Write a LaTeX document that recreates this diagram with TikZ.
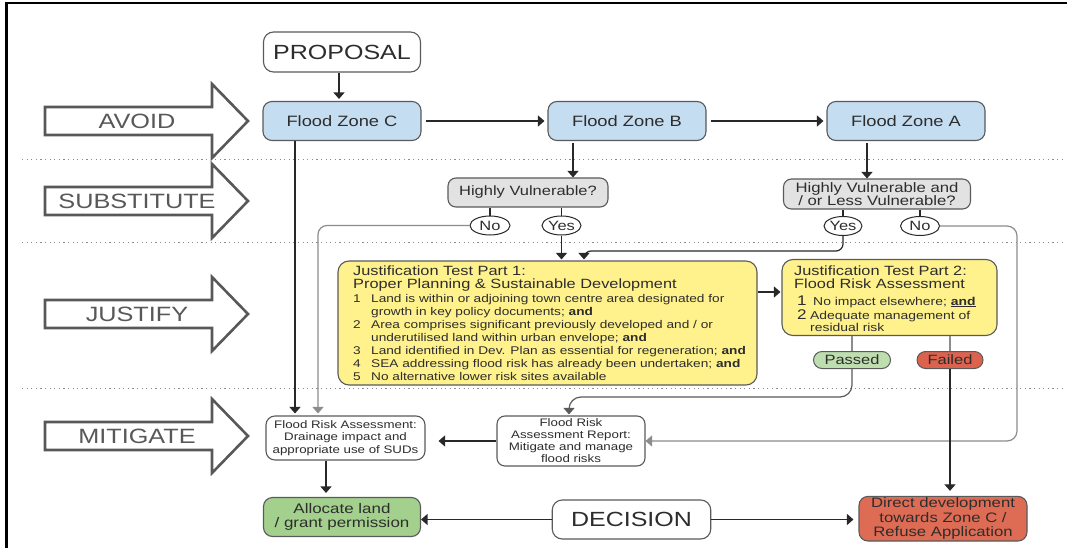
\documentclass[tikz,border=0pt]{standalone}
\usepackage{fontspec}
\setmainfont[FakeStretch=1.22]{Liberation Sans}
\usetikzlibrary{arrows.meta,calc,shapes.geometric}
\newcommand\myfs[2]{\fontsize{#1}{#2}\selectfont}
\definecolor{bluef}{RGB}{197,221,241}
\definecolor{yelf}{RGB}{255,242,140}
\definecolor{grayf}{RGB}{226,226,226}
\definecolor{passf}{RGB}{190,222,175}
\definecolor{failf}{RGB}{220,98,78}
\definecolor{allocf}{RGB}{164,208,142}
\definecolor{directf}{RGB}{222,108,84}
\definecolor{bordc}{RGB}{90,90,90}
\definecolor{linec}{RGB}{40,40,40}
\definecolor{lineg}{RGB}{140,140,140}
\definecolor{txtc}{RGB}{45,45,45}
\definecolor{bigc}{RGB}{88,88,88}
\definecolor{dotc}{RGB}{140,140,140}
\tikzset{
  box/.style={draw=bordc, line width=1.1pt, rounded corners=9pt, inner sep=1pt, align=center, text=txtc},
  wbox/.style={box, fill=white},
  zone/.style={box, fill=bluef, minimum width=158pt, minimum height=39pt, font=\myfs{15}{18}},
  qbox/.style={box, fill=grayf, rounded corners=8pt},
  ybox/.style={draw=bordc, line width=1.1pt, rounded corners=11pt, fill=yelf},
  yn/.style={ellipse, draw=linec, line width=1pt, fill=white, inner sep=0pt, minimum height=19pt, text=txtc, font=\myfs{13.5}{16}},
  pill/.style={draw=bordc, line width=1pt, rounded corners=8.5pt, minimum height=17pt, inner sep=0pt, text=txtc, font=\myfs{13.5}{16}},
  jt/.style={anchor=base west, inner sep=0pt, text=txtc, font=\myfs{13.4}{16}},
  ji/.style={anchor=base west, inner sep=0pt, text=txtc, font=\myfs{11.2}{13}},
  ji2/.style={anchor=base west, inner sep=0pt, text=txtc, font=\myfs{11.4}{13}},
  jn/.style={anchor=base west, inner sep=0pt, text=txtc, font=\myfs{14}{16}},
  biglab/.style={inner sep=0pt, text=bigc, font=\myfs{20.7}{24}},
  bigarr/.style={draw=bigc, line width=2.6pt, fill=white, line join=miter},
  tip/.style={-{Triangle[width=11pt,length=6.5pt]}},
  conn/.style={draw=linec, line width=1.2pt, tip},
  conng/.style={draw=lineg, line width=1.2pt, tip},
  connd/.style={draw=bordc, line width=1.2pt, tip},
  plain/.style={draw=linec, line width=1.1pt},
  plaing/.style={draw=lineg, line width=1.1pt},
  dotline/.style={draw=dotc, line width=1pt, dash pattern=on 1.2pt off 3.4pt}
}
\newcommand\bigarrowshape[3]{%
  \draw[bigarr] (45,{#1-14}) -- (212,{#1-14}) -- (212,{#1-37}) -- (248,#1) -- (212,{#1+37}) -- (212,{#1+14}) -- (45,{#1+14}) -- cycle;
  \node[biglab] (#2) at (137,#1) {#3};
}
\begin{document}
\begin{tikzpicture}[x=1pt,y=-1pt]
\useasboundingbox[fill=white] (0,0) rectangle (1067,548);
% frame
\draw[line width=2.5pt, black] (5,3) -- (1067,3);
\draw[line width=2.5pt, black] (6.3,3) -- (6.3,548);
% separators
\draw[dotline] (22,160) -- (1062,160);
\draw[dotline] (22,242) -- (1062,242);
\draw[dotline] (22,388) -- (1062,388);
% big arrows
\bigarrowshape{121}{lavoid}{AVOID}
\bigarrowshape{201}{lsubst}{SUBSTITUTE}
\bigarrowshape{314}{ljustify}{JUSTIFY}
\bigarrowshape{436}{lmitigate}{MITIGATE}
% nodes
\node[wbox, minimum width=157pt, minimum height=40pt, rounded corners=10pt, font=\myfs{20.5}{24}] (proposal) at (342,52) {PROPOSAL};
\node[zone] (fzc) at (342,121) {Flood Zone C};
\node[zone] (fzb) at (627,121) {Flood Zone B};
\node[zone] (fza) at (906,121) {Flood Zone A};
\node[qbox, minimum width=160pt, minimum height=29pt, font=\myfs{13.5}{16}] (hv) at (528,192.5) {Highly Vulnerable?};
\node[qbox, minimum width=187pt, minimum height=30pt, font=\myfs{13.7}{13.7}] (hvlv) at (877,194) {Highly Vulnerable and\\/ or Less Vulnerable?};
\node[yn, minimum width=40pt] (noB) at (490,225.5) {No};
\node[yn, minimum width=39pt] (yesB) at (561.5,225.5) {Yes};
\node[yn, minimum width=37pt] (yesA) at (843,226) {Yes};
\node[yn, minimum width=39pt] (noA) at (920,226) {No};
% justification boxes
\node[ybox, minimum width=419pt, minimum height=124pt] (j1) at (547.5,323) {};
\node[ybox, minimum width=215pt, minimum height=76pt] (j2) at (889.5,297.5) {};
\node[jt] (j1t1) at (353,275) {Justification Test Part 1:};
\node[jt] (j1t2) at (353,288.3) {Proper Planning \& Sustainable Development};
\node[ji] (j1n1) at (353,302) {1};
\node[ji] (j1a) at (371,302) {Land is within or adjoining town centre area designated for};
\node[ji] (j1b) at (371,315) {growth in key policy documents; \textbf{and}};
\node[ji] (j1n2) at (353,328) {2};
\node[ji] (j1c) at (371,328) {Area comprises significant previously developed and / or};
\node[ji] (j1d) at (371,341) {underutilised land within urban envelope; \textbf{and}};
\node[ji] (j1n3) at (353,354) {3};
\node[ji] (j1e) at (371,354) {Land identified in Dev. Plan as essential for regeneration; \textbf{and}};
\node[ji] (j1n4) at (353,367) {4};
\node[ji] (j1f) at (371,367) {SEA addressing flood risk has already been undertaken; \textbf{and}};
\node[ji] (j1n5) at (353,380) {5};
\node[ji] (j1g) at (371,380) {No alternative lower risk sites available};
\node[jt] (j2t1) at (794,275) {Justification Test Part 2:};
\node[jt] (j2t2) at (794,288.3) {Flood Risk Assessment};
\node[jn] (j2n1) at (797,305) {1};
\node[ji2] (j2a) at (813,305) {No impact elsewhere; \underline{\textbf{and}}};
\node[jn] (j2n2) at (797,319) {2};
\node[ji2] (j2b) at (810,319) {Adequate management of};
\node[ji2] (j2c) at (810,331) {residual risk};
\node[pill, fill=passf, minimum width=77pt] (passed) at (852,360) {Passed};
\node[pill, fill=failf, minimum width=66pt] (failed) at (950,360) {Failed};
% mitigate / decision
\node[wbox, minimum width=148pt, minimum height=50pt, rounded corners=8pt, font=\myfs{10.9}{12}] (rep) at (571,441) {Flood Risk\\Assessment Report:\\Mitigate and manage\\flood risks};
\node[wbox, minimum width=159pt, minimum height=44pt, font=\myfs{10.9}{12.8}] (fra) at (345.5,438) {Flood Risk Assessment:\\Drainage impact and\\appropriate use of SUDs};
\node[box, fill=allocf, minimum width=157pt, minimum height=39pt, font=\myfs{13.9}{14}] (alloc) at (342,517) {Allocate land\\/ grant permission};
\node[wbox, minimum width=158.5pt, minimum height=39pt, rounded corners=10pt, font=\myfs{20.5}{24}] (dec) at (631.5,519.5) {DECISION};
\node[box, fill=directf, minimum width=168pt, minimum height=44.6pt, font=\myfs{13.7}{14.5}] (direct) at (943,518.7) {Direct development\\towards Zone C /\\Refuse Application};
% helper coordinates
\coordinate (xa) at (295,0);
\coordinate (xb) at (318,0);
\coordinate (xc) at (326,0);
\coordinate (xd) at (573,0);
\coordinate (xe) at (867,0);
\coordinate (xf) at (584,0);
\coordinate (xg) at (569,0);
\coordinate (xr) at (1017,0);
\coordinate (xp) at (339,0);
\coordinate (yh) at (0,251);
\coordinate (yp) at (0,397);
\coordinate (yj) at (0,292);
% connectors
\draw[conn, shorten >=2pt] (proposal.south -| xp) -- (fzc.north -| xp);
\draw[conn, shorten <=4pt, shorten >=3pt] (fzc.east) -- (fzb.west);
\draw[conn, shorten <=4pt, shorten >=3pt] (fzb.east) -- (fza.west);
\draw[conn, shorten <=2pt] (fzb.south -| xd) -- (hv.north -| xd);
\draw[conn, shorten <=2pt] (fza.south -| xe) -- (hvlv.north -| xe);
\draw[plain] (hv.south -| noB) -- (noB.north);
\draw[plain] (hv.south -| yesB) -- (yesB.north);
\draw[plain] (hvlv.south -| yesA) -- (yesA.north);
\draw[plain] (hvlv.south -| noA) -- (noA.north);
\draw[conn, shorten >=1pt] (yesB.south) -- (yesB.south |- j1.north);
\draw[conn, rounded corners=7pt, shorten >=1pt] (yesA.south) |- (xf |- yh) -- (xf |- j1.north);
\draw[conng, rounded corners=9pt, shorten >=2pt] (noB.west) -| (xb |- fra.north);
\draw[conn, shorten >=2pt] (fzc.south -| xa) -- (fra.north -| xa);
\draw[conng, rounded corners=10pt] (noA.east) -| (xr |- rep.east) -- (rep.east);
\draw[conn, shorten >=1pt] (j1.east |- yj) -- (j2.west |- yj);
\draw[plaing] (j2.south -| passed) -- (passed.north);
\draw[plaing] (j2.south -| failed) -- (failed.north);
\draw[connd, rounded corners=12pt, shorten >=1pt] (passed.south) |- (xg |- yp) -- (xg |- rep.north);
\draw[conn, shorten >=5pt] (failed.south) -- (failed.south |- direct.north);
\draw[conn, shorten >=13pt] (rep.west) -- (rep.west -| fra.east);
\draw[conn, shorten >=4pt] (fra.south -| xc) -- (alloc.north -| xc);
\draw[conn] (dec.west) -- (dec.west -| alloc.east);
\draw[conn, shorten >=5pt] (dec.east) -- (dec.east -| direct.west);
\end{tikzpicture}
\end{document}
